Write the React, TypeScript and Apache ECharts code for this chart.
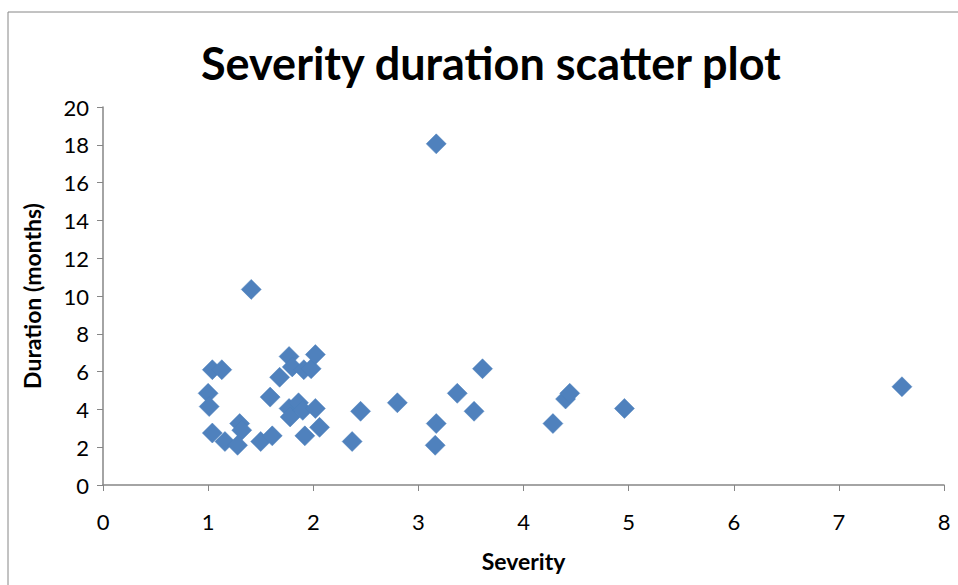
import React, { useEffect, useRef } from "react";
import * as echarts from "echarts";

// Severity (x) and duration in months (y) for each observation
const severity: number[] = [
  1.04, 1.13, 1.0, 1.01, 1.04, 1.16, 1.3, 1.32, 1.28, 1.5,
  1.61, 1.59, 1.68, 1.77, 1.8, 1.91, 1.98, 2.02, 1.77, 1.86,
  1.78, 1.9, 2.02, 1.92, 2.06, 2.37, 2.45, 2.8, 3.17, 3.16,
  3.37, 3.53, 3.61, 4.28, 4.4, 4.44, 4.96, 7.6, 3.17, 1.41,
];
const durationMonths: number[] = [
  6.1, 6.1, 4.85, 4.15, 2.75, 2.3, 3.25, 2.9, 2.1, 2.3,
  2.6, 4.65, 5.7, 6.8, 6.25, 6.1, 6.15, 6.9, 4.05, 4.35,
  3.6, 3.95, 4.05, 2.6, 3.05, 2.3, 3.9, 4.35, 3.25, 2.1,
  4.85, 3.9, 6.15, 3.25, 4.55, 4.85, 4.05, 5.2, 18.05, 10.35,
];

const xTicks = { min: 0, max: 8, interval: 1 };
const yTicks = { min: 0, max: 20, interval: 2 };

const FONT = "Lato, 'Open Sans', sans-serif";
const AXIS_GRAY = "#868686";

export default function App() {
  const ref = useRef<HTMLDivElement>(null);

  useEffect(() => {
    if (!ref.current) return;
    const chart = echarts.init(ref.current, undefined, { renderer: "svg" });
    const points = severity.map((s, i) => [s, durationMonths[i]]);

    chart.setOption({
      animation: false,
      backgroundColor: "#ffffff",
      textStyle: { fontFamily: FONT },
      graphic: [
        {
          type: "rect",
          shape: { x: 8, y: 12, width: 1000, height: 700 },
          style: { fill: "none", stroke: AXIS_GRAY, lineWidth: 1 },
          silent: true,
          z: -1,
        },
      ],
      title: {
        text: "Severity duration scatter plot",
        left: 196,
        top: 35,
        textStyle: {
          fontFamily: FONT,
          fontSize: 45,
          fontWeight: "bold",
          color: "#000000",
        },
      },
      grid: { left: 103, top: 107, width: 841, height: 378, containLabel: false },
      xAxis: {
        type: "value",
        min: xTicks.min,
        max: xTicks.max,
        interval: xTicks.interval,
        name: "Severity",
        nameLocation: "middle",
        nameGap: 64,
        nameTextStyle: { fontFamily: FONT, fontSize: 23, fontWeight: "bold", color: "#000" },
        axisLine: { show: true, onZero: false, lineStyle: { color: AXIS_GRAY, width: 1.5 } },
        axisTick: { show: true, length: 6, inside: false, lineStyle: { color: AXIS_GRAY } },
        axisLabel: { fontFamily: FONT, fontSize: 22, color: "#000", margin: 25 },
        splitLine: { show: false },
      },
      yAxis: {
        type: "value",
        min: yTicks.min,
        max: yTicks.max,
        interval: yTicks.interval,
        name: "Duration (months)",
        nameLocation: "middle",
        nameGap: 60,
        nameRotate: 90,
        nameTextStyle: { fontFamily: FONT, fontSize: 23, fontWeight: "bold", color: "#000" },
        axisLine: { show: true, lineStyle: { color: AXIS_GRAY, width: 1.5 } },
        axisTick: { show: true, length: 6, inside: false, lineStyle: { color: AXIS_GRAY } },
        axisLabel: { fontFamily: FONT, fontSize: 22, color: "#000", margin: 14 },
        splitLine: { show: false },
      },
      series: [
        {
          type: "scatter",
          data: points,
          symbol: "diamond",
          symbolSize: 20,
          itemStyle: { color: "#4f81bd", opacity: 1, borderColor: "#4a7ebb", borderWidth: 0.5 },
        },
      ],
    });

    return () => chart.dispose();
  }, []);

  return (
    <div
      ref={ref}
      style={{ position: "fixed", left: 0, top: 0, width: 958, height: 585 }}
    />
  );
}
